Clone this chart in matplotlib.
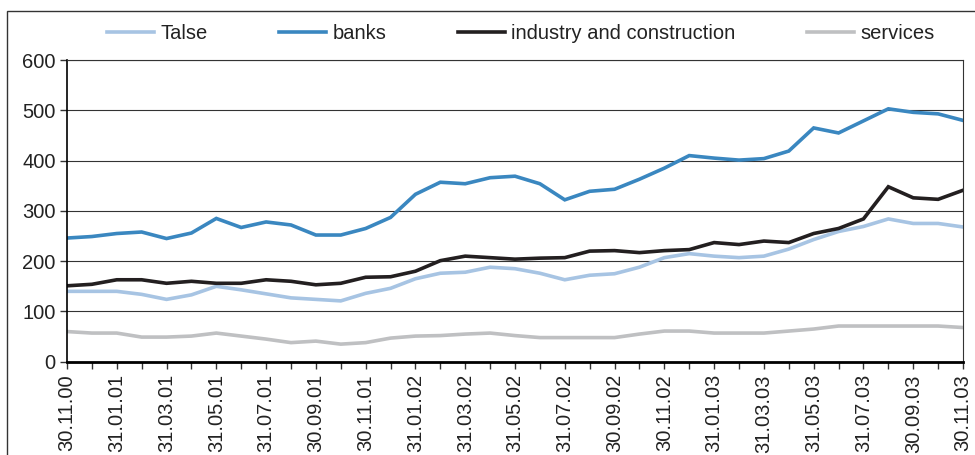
import numpy as np
import matplotlib
matplotlib.use("Agg")
import matplotlib.pyplot as plt
from matplotlib.patches import Rectangle

plt.rcParams['font.family'] = ['Liberation Sans', 'DejaVu Sans']

## Data ------------------------

# month-end dates, one label every second month
tick_labels = ["30.11.00", "31.01.01", "31.03.01", "31.05.01", "31.07.01",
               "30.09.01", "30.11.01", "31.01.02", "31.03.02", "31.05.02",
               "31.07.02", "30.09.02", "30.11.02", "31.01.03", "31.03.03",
               "31.05.03", "31.07.03", "30.09.03", "30.11.03"]

talse = [140, 140, 140, 134, 124, 133, 150, 143, 135, 127, 124, 121, 136, 146,
         165, 176, 178, 188, 185, 176, 163, 172, 175, 188, 207, 215, 210, 207,
         210, 224, 243, 259, 269, 284, 275, 275, 268]
banks = [246, 249, 255, 258, 245, 256, 285, 267, 278, 272, 252, 252, 265, 287,
         333, 357, 354, 366, 369, 354, 322, 339, 343, 363, 385, 410, 405, 401,
         404, 419, 465, 455, 479, 503, 496, 493, 480]
industry = [151, 154, 163, 163, 156, 160, 156, 156, 163, 160, 153, 156, 168, 169,
            180, 201, 210, 207, 204, 206, 207, 220, 221, 217, 221, 223, 237, 233,
            240, 237, 255, 265, 284, 348, 326, 323, 341]
services = [60, 57, 57, 49, 49, 51, 57, 51, 45, 38, 41, 35, 38, 47, 51, 52, 55,
            57, 52, 48, 48, 48, 48, 55, 61, 61, 57, 57, 57, 61, 65, 71, 71, 71,
            71, 71, 68]

series = [("Talse", talse, "#a7c4e3"),
          ("banks", banks, "#3a87c0"),
          ("industry and construction", industry, "#231f20"),
          ("services", services, "#bfc0c2")]

## Plotting --------------------

fig = plt.figure(figsize=(9.75, 4.55), dpi=100)
ax = fig.add_axes([0.0687, 0.205, 0.9190, 0.663])

x = np.arange(len(banks))
for name, vals, col in series:
    ax.plot(x, vals, color=col, lw=2.6, label=name, solid_joinstyle="miter")

ax.set_xlim(0, len(banks) - 1)
ax.set_ylim(0, 600)
ax.set_yticks(range(0, 601, 100))
ax.yaxis.grid(True, color="#333333", lw=0.8)
ax.set_axisbelow(True)

ax.set_xticks(x, minor=True)
ax.set_xticks(x[::2])
ax.set_xticklabels(tick_labels, rotation=90, va="top", ha="center")
ax.tick_params(axis="x", which="both", length=5, width=1, color="#333333",
               labelsize=14.5, labelcolor="#222222", pad=4)
ax.tick_params(axis="y", length=5, width=1, color="#333333",
               labelsize=14.5, labelcolor="#222222", pad=3)

ax.spines["bottom"].set_linewidth(2)
ax.spines["left"].set_linewidth(1.2)
ax.spines["top"].set_linewidth(0.8)
ax.spines["right"].set_linewidth(0.8)
ax.spines["top"].set_color("#333333")
ax.spines["right"].set_color("#333333")

# legend across the top
handles, labels = ax.get_legend_handles_labels()
fig.legend(handles, labels, loc="center", bbox_to_anchor=(0.534, 0.927),
           ncol=4, frameon=False, fontsize=14.5, handlelength=2.35,
           columnspacing=3.55, handletextpad=0.3, labelcolor="#222222",
           borderaxespad=0, borderpad=0)

# outer frame
fig.patches.append(Rectangle((7 / 975, -0.1), 1.2, 0.976 + 0.1,
                             transform=fig.transFigure, fill=False,
                             edgecolor="#333333", lw=1.0))

fig.savefig("out.png", dpi=100)
